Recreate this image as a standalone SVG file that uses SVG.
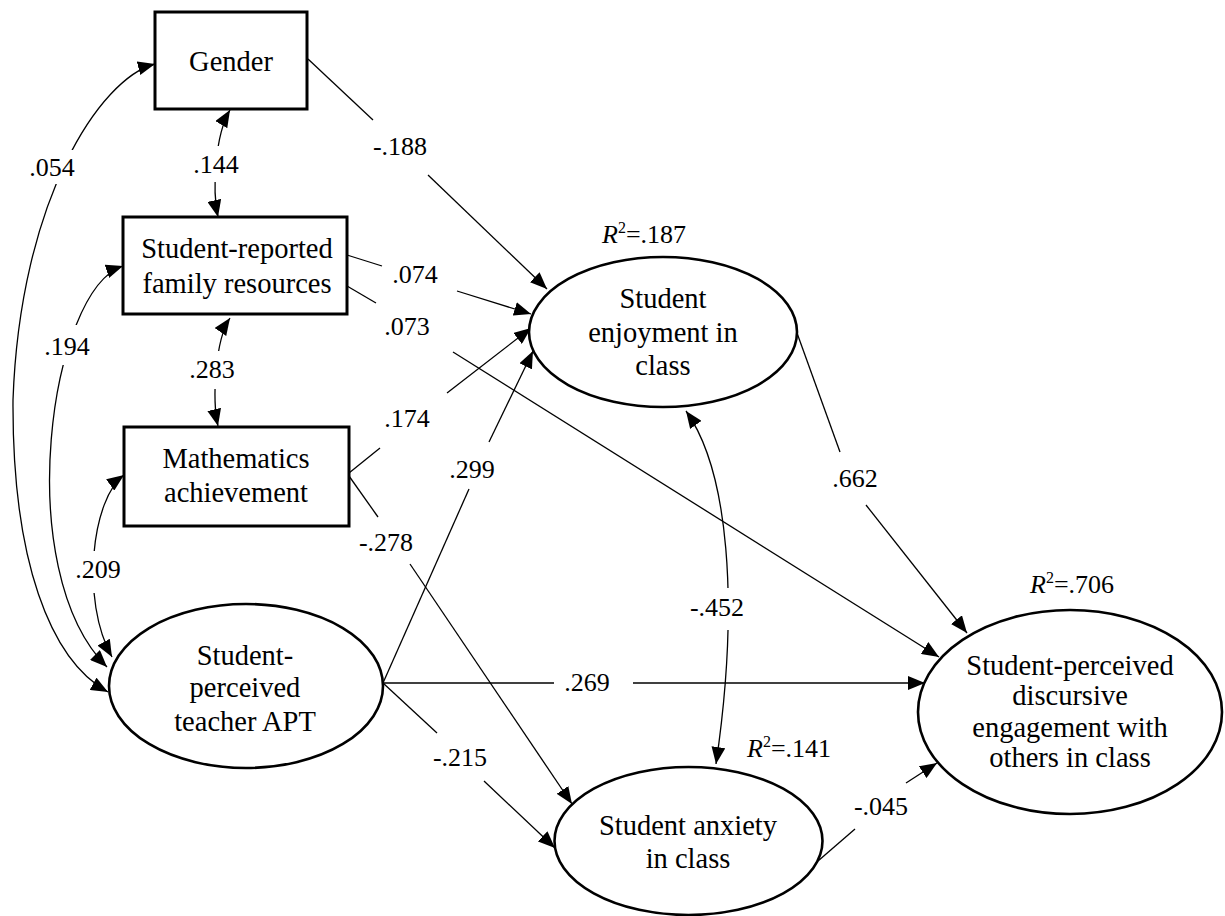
<svg xmlns="http://www.w3.org/2000/svg" width="1225" height="916" viewBox="0 0 1225 916">
<style>
.box{fill:#fff;stroke:#000;stroke-width:3}
.ell{fill:#fff;stroke:#000;stroke-width:2.6}
.nt{font-family:'Times New Roman',serif;font-size:28.5px;fill:#000;text-anchor:middle}
.lb{font-family:'Times New Roman',serif;font-size:26px;fill:#000;text-anchor:middle}
.r2{font-family:'Times New Roman',serif;font-size:26px;fill:#000}
.e{fill:none;stroke:#000;stroke-width:1.3}
.a{fill:none;stroke:#000;stroke-width:1.3;marker-end:url(#ah)}
.c{fill:none;stroke:#000;stroke-width:1.3;marker-start:url(#ah);marker-end:url(#ah)}
.bg{fill:#fff}
</style>
<defs>
<marker id="ah" markerWidth="18" markerHeight="14" refX="17" refY="7" orient="auto-start-reverse" markerUnits="userSpaceOnUse"><path d="M0,0 L17,7 L0,14 z" fill="#000"/></marker>
</defs>
<rect width="1225" height="916" fill="#fff"/>
<g id="connectors">
<path class="c" d="M155,64 C100,78 20,200 13,400 C12,560 50,660 108,692"/>
<path class="c" d="M123,266 C50,290 10,570 107,667"/>
<path class="c" d="M230,110 C215,135 212,190 218,217"/>
<path class="c" d="M230,318 C215,340 212,400 218,426"/>
<path class="c" d="M124,475 C92,498 80,600 112,657"/>
<path class="c" d="M686,411 C728,470 740,600 716,764"/>
<rect class="bg" x="28" y="150" width="50" height="34"/>
<rect class="bg" x="43" y="325" width="50" height="40"/>
<rect class="bg" x="193" y="146" width="48" height="36"/>
<rect class="bg" x="188" y="351" width="48" height="38"/>
<rect class="bg" x="75" y="551" width="48" height="42"/>
<rect class="bg" x="688" y="588" width="58" height="42"/>
<line class="e" x1="308" y1="59" x2="373" y2="120"/>
<line class="a" x1="428" y1="175" x2="547" y2="289"/>
<line class="e" x1="347" y1="255" x2="382" y2="266"/>
<line class="a" x1="457" y1="291" x2="531" y2="314"/>
<line class="e" x1="347" y1="286" x2="376" y2="303"/>
<line class="a" x1="453" y1="352" x2="939" y2="657"/>
<line class="e" x1="349" y1="473" x2="380" y2="448"/>
<line class="a" x1="447" y1="393" x2="531" y2="328"/>
<line class="e" x1="349" y1="476" x2="378" y2="517"/>
<line class="a" x1="410" y1="564" x2="572" y2="804"/>
<line class="e" x1="383" y1="683" x2="469" y2="489"/>
<line class="a" x1="489" y1="442" x2="533" y2="351"/>
<line class="e" x1="383" y1="683" x2="554" y2="683"/>
<line class="a" x1="633" y1="683" x2="925" y2="683"/>
<line class="e" x1="383" y1="683" x2="437" y2="733"/>
<line class="a" x1="484" y1="781" x2="555" y2="848"/>
<line class="e" x1="797" y1="333" x2="840" y2="452"/>
<line class="a" x1="866" y1="505" x2="967" y2="633"/>
<line class="e" x1="818" y1="861" x2="855" y2="829"/>
<line class="a" x1="906" y1="783" x2="937" y2="763"/>
<text class="lb" x="52" y="176">.054</text>
<text class="lb" x="67" y="355">.194</text>
<text class="lb" x="216" y="173">.144</text>
<text class="lb" x="212" y="378">.283</text>
<text class="lb" x="98" y="578">.209</text>
<text class="lb" x="400" y="155">-.188</text>
<text class="lb" x="415" y="283">.074</text>
<text class="lb" x="407" y="335">.073</text>
<text class="lb" x="407" y="427">.174</text>
<text class="lb" x="386" y="551">-.278</text>
<text class="lb" x="472" y="478">.299</text>
<text class="lb" x="587" y="691">.269</text>
<text class="lb" x="460" y="766">-.215</text>
<text class="lb" x="855" y="487">.662</text>
<text class="lb" x="881" y="815">-.045</text>
<text class="lb" x="717" y="616">-.452</text>
</g>
<g id="gender">
<rect class="box" x="155" y="12" width="152" height="97"/>
<text class="nt" x="231" y="71">Gender</text>
</g>
<g id="family">
<rect class="box" x="123" y="217" width="224" height="97"/>
<text class="nt" x="237" y="258">Student-reported</text>
<text class="nt" x="237" y="293">family resources</text>
</g>
<g id="math">
<rect class="box" x="124" y="427" width="225" height="99"/>
<text class="nt" x="236" y="468">Mathematics</text>
<text class="nt" x="236" y="502">achievement</text>
</g>
<g id="apt">
<ellipse class="ell" cx="246" cy="686" rx="137" ry="82"/>
<text class="nt" x="245" y="665">Student-</text>
<text class="nt" x="245" y="697">perceived</text>
<text class="nt" x="245" y="731">teacher APT</text>
</g>
<g id="enjoyment">
<ellipse class="ell" cx="663" cy="332" rx="134" ry="75"/>
<text class="nt" x="663" y="308">Student</text>
<text class="nt" x="663" y="342">enjoyment in</text>
<text class="nt" x="663" y="375">class</text>
<text class="r2" x="602" y="243"><tspan font-style="italic">R</tspan><tspan font-size="16" dy="-10">2</tspan><tspan dy="10">=.187</tspan></text>
</g>
<g id="anxiety">
<ellipse class="ell" cx="688.5" cy="841" rx="134" ry="74"/>
<text class="nt" x="688" y="835">Student anxiety</text>
<text class="nt" x="688" y="868">in class</text>
<text class="r2" x="747" y="757"><tspan font-style="italic">R</tspan><tspan font-size="16" dy="-10">2</tspan><tspan dy="10">=.141</tspan></text>
</g>
<g id="engagement">
<ellipse class="ell" cx="1070" cy="712" rx="152" ry="102"/>
<text class="nt" x="1070" y="675">Student-perceived</text>
<text class="nt" x="1070" y="705">discursive</text>
<text class="nt" x="1070" y="737">engagement with</text>
<text class="nt" x="1070" y="767">others in class</text>
<text class="r2" x="1030" y="593"><tspan font-style="italic">R</tspan><tspan font-size="16" dy="-10">2</tspan><tspan dy="10">=.706</tspan></text>
</g>
</svg>
